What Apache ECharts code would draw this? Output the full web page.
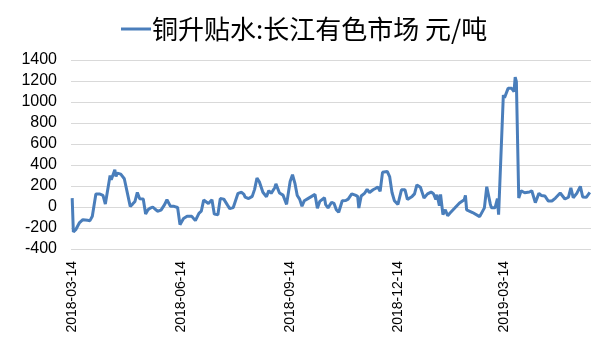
<!DOCTYPE html>
<html><head><meta charset="utf-8">
<script src="https://cdn.jsdelivr.net/npm/echarts@6/dist/echarts.min.js"></script>
<style>html,body{margin:0;padding:0;background:#fff}#c{width:605px;height:341px}</style>
</head><body><div id="c"></div><script>
const seriesName = '铜升贴水:长江有色市场 元/吨';
const startDate = [2018, 2, 14];          // 2018-03-14
const axisStartOffset = -1;               // 2018-03-13
const axisEndOffset = 438;                // 2019-05-26
const xTickLabels = ['2018-03-14', '2018-06-14', '2018-09-14', '2018-12-14', '2019-03-14'];
const yMin = -400, yMax = 1400, yInterval = 200;

// days after 2018-03-14
const dayOffsets = [0,1,3,6,9,13,15,17,20,23,26,28,32,33,36,37,38,41,44,49,51,53,55,57,60,62,64,66,68,70,72,75,78,80,83,86,89,91,94,97,101,104,107,109,111,115,118,119,120,123,125,128,131,133,136,140,143,145,146,149,152,154,156,158,161,164,166,168,171,172,175,178,181,184,186,188,190,192,194,196,199,205,207,209,213,214,216,219,221,223,225,228,231,233,236,239,241,242,244,247,249,251,254,256,258,260,262,266,268,270,272,275,278,281,283,287,289,291,294,296,297,300,303,305,307,308,310,311,313,315,317,319,323,327,331,332,333,338,344,348,350,353,354,357,359,360,364,365,368,371,373,374,375,377,379,382,386,388,391,394,396,399,402,405,408,412,416,419,421,423,426,429,431,434,437];
const premiumValues = [85,-238,-216,-152,-121,-127,-130,-89,124,124,110,28,300,260,355,291,323,313,269,6,28,53,139,79,76,-67,-26,-10,0,-20,-40,-30,22,69,6,6,-5,-168,-110,-89,-89,-130,-60,-40,66,33,70,85,-68,-73,80,75,20,-15,-5,130,140,120,95,80,101,168,275,240,140,98,156,130,183,220,133,113,25,243,307,228,110,75,8,60,80,120,-12,53,88,22,-8,45,35,-26,-50,60,62,75,125,113,101,-10,105,133,168,138,164,176,190,150,330,338,290,138,60,25,164,164,72,101,125,210,188,120,85,125,142,126,72,117,12,120,-73,-26,-83,-57,-10,38,69,110,-28,-53,-92,-8,193,27,-8,-8,79,-73,1067,1040,1130,1130,1099,1238,1195,85,155,136,143,155,41,130,110,105,57,57,85,133,76,93,183,88,130,196,95,92,139];

function dayMs(off) { return new Date(startDate[0], startDate[1], startDate[2] + off).getTime(); }
function parseDate(s) { const p = s.split('-').map(Number); return new Date(p[0], p[1] - 1, p[2]).getTime(); }
function pad(n) { return (n < 10 ? '0' : '') + n; }
function fmt(v) { const d = new Date(v); return d.getFullYear() + '-' + pad(d.getMonth() + 1) + '-' + pad(d.getDate()); }

const seriesData = dayOffsets.map((d, i) => [dayMs(d), premiumValues[i]]);
const tickValues = xTickLabels.map(parseDate);

const chart = echarts.init(document.getElementById('c'), null, { renderer: 'canvas' });
chart.setOption({
  animation: false,
  backgroundColor: '#ffffff',
  legend: {
    data: [seriesName],
    left: 116, top: 11,
    icon: 'rect', itemWidth: 30, itemHeight: 3, itemGap: 4,
    textStyle: { fontFamily: 'Noto Sans CJK SC', fontSize: 26, color: '#000', padding: [0, 0, 0, -4] }
  },
  grid: { left: 71, right: 14, top: 60, bottom: 92, containLabel: false },
  xAxis: {
    type: 'value',
    min: dayMs(axisStartOffset), max: dayMs(axisEndOffset),
    axisLine: { show: false },
    axisTick: { show: false },
    splitLine: { show: false },
    axisLabel: {
      customValues: tickValues,
      rotate: 90, margin: 12,
      fontFamily: 'Liberation Sans', fontSize: 14, color: '#000',
      formatter: v => fmt(v)
    }
  },
  yAxis: {
    type: 'value', min: yMin, max: yMax, interval: yInterval,
    axisLine: { show: false }, axisTick: { show: false },
    splitLine: { lineStyle: { color: '#d9d9d9', width: 1 } },
    axisLabel: { fontFamily: 'Liberation Sans', fontSize: 16, color: '#000', margin: 14, formatter: v => String(v) }
  },
  series: [{
    name: seriesName, type: 'line', data: seriesData,
    showSymbol: false, symbol: 'none',
    lineStyle: { color: '#4a7ebb', width: 3 },
    itemStyle: { color: '#4a7ebb' }
  }]
});
</script></body></html>
